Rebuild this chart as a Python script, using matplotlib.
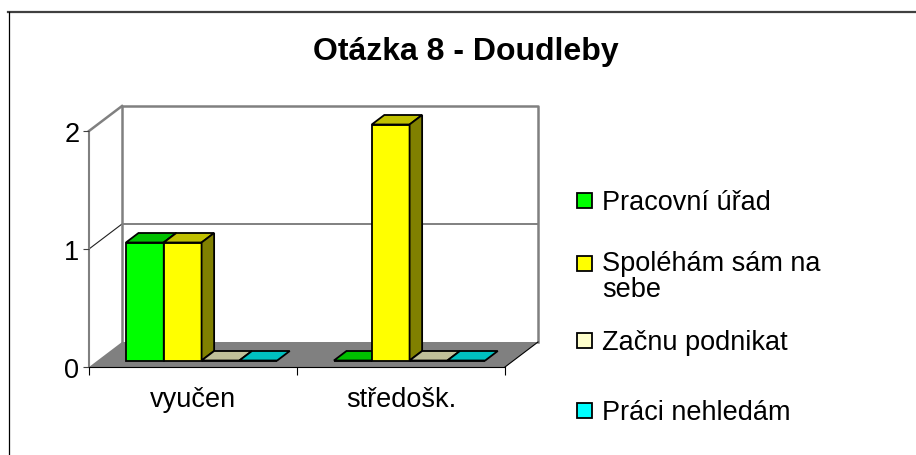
import matplotlib
matplotlib.use("Agg")
import matplotlib.pyplot as plt
from matplotlib.patches import Polygon, Rectangle
from matplotlib.lines import Line2D

plt.rcParams['font.family'] = ['Liberation Sans', 'DejaVu Sans']

# data
categories = ['vyučen', 'středošk.']
series_names = ['Pracovní úřad', 'Spoléhám sám na\nsebe', 'Začnu podnikat', 'Práci nehledám']
values = {
    'Pracovní úřad': [1, 0],
    'Spoléhám sám na\nsebe': [1, 2],
    'Začnu podnikat': [0, 0],
    'Práci nehledám': [0, 0],
}
front_colors = ['#00ff00', '#ffff00', '#ffffcc', '#00ffff']
top_colors = ['#00c000', '#c0c000', '#c0c099', '#00c0c0']
side_colors = ['#008000', '#808000', '#808066', '#008080']
y_ticks = [0, 1, 2]

W, H = 916, 456
fig = plt.figure(figsize=(W / 100, H / 100), dpi=100)


def fx(px):
    return px / W


def fy(py):
    return (H - py) / H


# front plane of the chart: x 89..505 px, value 0 at 368 px, value 2 at 132 px
ax = fig.add_axes([fx(89), fy(368), fx(505) - fx(89), fy(132) - fy(368)])
ax.set_xlim(0, len(categories))
ax.set_ylim(0, 2)
ax.patch.set_alpha(0)

# depth of the 3d box in data units
DX = 33 / 208.0
DY = 25 / 118.0
ncat = len(categories)
top = max(y_ticks)

# floor and walls
ax.add_patch(Polygon([(0, 0), (ncat, 0), (ncat + DX, DY), (DX, DY)], closed=True,
                     facecolor='#808080', edgecolor='none', zorder=1, clip_on=False))
ax.add_patch(Polygon([(DX, DY), (ncat + DX, DY), (ncat + DX, top + DY), (DX, top + DY)],
                     closed=True, facecolor='white', edgecolor='none', zorder=0,
                     clip_on=False))
ax.plot([DX, DX, ncat + DX, ncat + DX], [DY, top + DY, top + DY, DY],
        color='#808080', lw=1.8, zorder=1.5, clip_on=False)
ax.plot([0, DX], [top, top + DY], color='#808080', lw=1.8, zorder=1.5, clip_on=False)
for t in y_ticks[1:-1]:
    ax.plot([0, DX, ncat + DX], [t, t + DY, t + DY], color='#202020', lw=0.8,
            zorder=1.4, clip_on=False)
ax.plot([ncat, ncat + DX], [0, DY], color='black', lw=0.8, zorder=1.6, clip_on=False)

# bars
w = 1 / 5.5
g = (1 - len(series_names) * w) / 2
f0, f1 = 0.26, 0.64
for i in range(ncat):
    for k, name in enumerate(series_names):
        v = values[name][i]
        x0 = i + g + k * w + f0 * DX
        b = f0 * DY
        z = 3 + k * 0.1
        ax.bar(x0, v, width=w, bottom=b, align='edge', color=front_colors[k],
               edgecolor='black', linewidth=1.3, zorder=z, clip_on=False)
        ddx, ddy = (f1 - f0) * DX, (f1 - f0) * DY
        ax.add_patch(Polygon([(x0, b + v), (x0 + w, b + v), (x0 + w + ddx, b + v + ddy),
                              (x0 + ddx, b + v + ddy)], closed=True,
                             facecolor=top_colors[k], edgecolor='black', lw=1.3,
                             zorder=z + 0.01, clip_on=False))
        if v > 0:
            ax.add_patch(Polygon([(x0 + w, b), (x0 + w + ddx, b + ddy),
                                  (x0 + w + ddx, b + v + ddy), (x0 + w, b + v)], closed=True,
                                 facecolor=side_colors[k], edgecolor='black', lw=1.3,
                                 zorder=z + 0.02, clip_on=False))

# axes lines and ticks
for s in ['top', 'right']:
    ax.spines[s].set_visible(False)
ax.spines['left'].set_color('#808080')
ax.spines['left'].set_linewidth(1.5)
ax.spines['bottom'].set_color('black')
ax.spines['bottom'].set_linewidth(0.8)
ax.spines['left'].set_zorder(1.5)
ax.set_yticks(y_ticks)
ax.set_yticklabels([str(t) for t in y_ticks])
ax.tick_params(axis='y', length=4, width=0.8, color='#404040', pad=3, labelsize=19.5)
ax.set_xticks([i + 0.5 for i in range(ncat)])
ax.set_xticklabels(categories)
ax.set_xticks(range(ncat + 1), minor=True)
ax.tick_params(axis='x', which='major', length=0, pad=14, labelsize=19.5)
ax.tick_params(axis='x', which='minor', length=6, width=0.8, color='black')

# title
fig.text(fx(466), fy(60), 'Otázka 8 - Doudleby', ha='center', va='baseline',
         fontsize=23, fontweight='bold')

# legend
leg_baselines = [210, 273, 350, 420]
line_step = 24
for k, name in enumerate(series_names):
    yb = leg_baselines[k]
    nlines = name.count('\n') + 1
    fig.add_artist(Rectangle((fx(577), fy(yb - 1)), fx(15), 15 / H,
                             facecolor=front_colors[k], edgecolor='black', lw=1.3,
                             transform=fig.transFigure))
    fig.text(fx(602), fy(yb + line_step * (nlines - 1)), name, ha='left', va='baseline',
             fontsize=19.5, linespacing=1.02)

# outer frame (top and left edges)
fig.add_artist(Line2D([fx(8), 1], [fy(13), fy(13)], color='#404040', lw=1.6,
                      transform=fig.transFigure))
fig.add_artist(Line2D([fx(9), fx(9)], [fy(13), 0], color='black', lw=0.9,
                      transform=fig.transFigure))

fig.savefig('out.png', dpi=100)
